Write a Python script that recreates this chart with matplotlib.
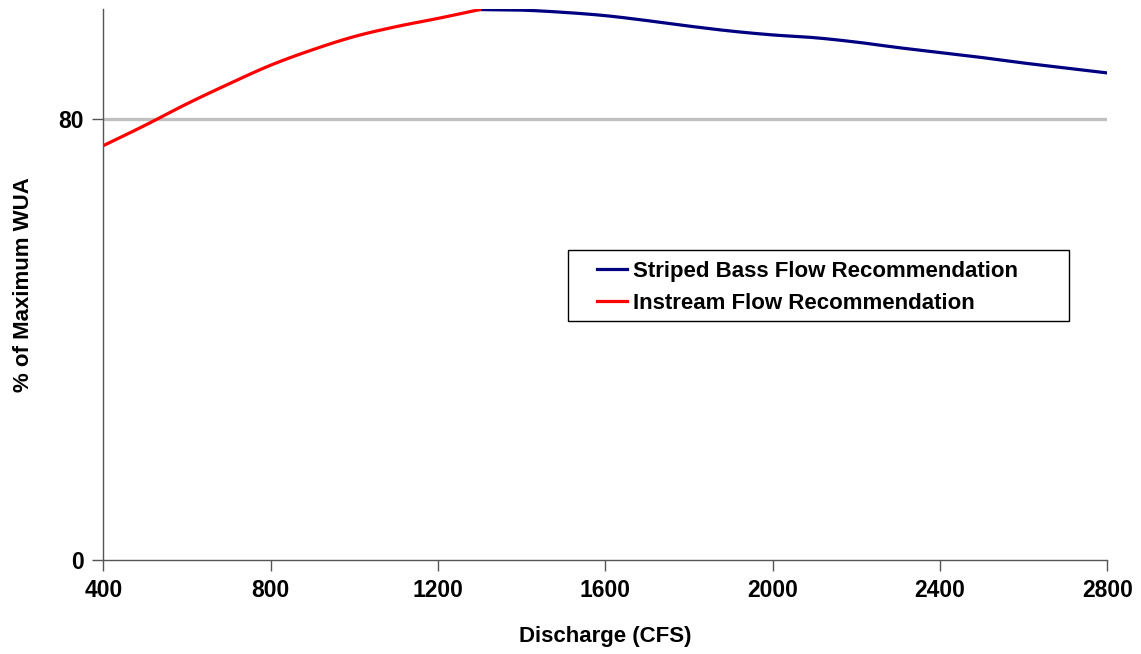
import numpy as np
import matplotlib.pyplot as plt
from matplotlib.patches import Rectangle

# Discharge (CFS) and % of max WUA
instream_q = [400, 500, 600, 700, 800, 900, 1000, 1100, 1200, 1300]
instream_wua = [75.2, 78.9, 82.8, 86.4, 89.8, 92.6, 95.0, 96.8, 98.3, 99.9]

bass_q = [1300, 1400, 1500, 1600, 1700, 1800, 1900, 2000, 2100, 2200,
          2300, 2400, 2500, 2600, 2700, 2800]
bass_wua = [99.9, 99.8, 99.4, 98.8, 97.9, 96.9, 96.0, 95.3, 94.8, 94.0,
            93.0, 92.1, 91.2, 90.2, 89.3, 88.4]

x_ticks = [400, 800, 1200, 1600, 2000, 2400, 2800]
y_ticks = [0, 80]


def smooth(x, y, n=12):
    # Catmull-Rom drawing of the line, like Excel's "smoothed line"
    x = np.asarray(x, float)
    y = np.asarray(y, float)
    px = np.concatenate([[2 * x[0] - x[1]], x, [2 * x[-1] - x[-2]]])
    py = np.concatenate([[2 * y[0] - y[1]], y, [2 * y[-1] - y[-2]]])
    t = np.linspace(0, 1, n, endpoint=False)
    xs, ys = [], []
    for i in range(1, len(px) - 2):
        for p, out in ((px, xs), (py, ys)):
            p0, p1, p2, p3 = p[i - 1], p[i], p[i + 1], p[i + 2]
            out.extend(0.5 * (2 * p1 + (-p0 + p2) * t
                              + (2 * p0 - 5 * p1 + 4 * p2 - p3) * t ** 2
                              + (-p0 + 3 * p1 - 3 * p2 + p3) * t ** 3))
    xs.append(x[-1])
    ys.append(y[-1])
    return xs, ys


plt.rcParams['font.family'] = ['Liberation Sans', 'DejaVu Sans']
plt.rcParams['font.weight'] = 'bold'

fig = plt.figure(figsize=(11.41, 6.54), dpi=100)
ax = fig.add_axes([0.0905, 0.1437, 0.88, 0.8425])

ax.axhline(80, color='#c0c0c0', lw=2.4, zorder=1)
bx, by = smooth(bass_q, bass_wua)
ax.plot(bx, by, color='#000080', lw=2.3,
        label='Striped Bass Flow Recommendation', zorder=3)
ix, iy = smooth(instream_q, instream_wua)
ax.plot(ix, iy, color='#ff0000', lw=2.3,
        label='Instream Flow Recommendation', zorder=3)

ax.set_xlim(400, 2800)
ax.set_ylim(0, 100)
ax.set_xticks(x_ticks)
ax.set_yticks(y_ticks)
ax.tick_params(axis='both', labelsize=16.5, length=8, width=1,
               color='#555555', direction='out', pad=6)
for lab in ax.get_xticklabels() + ax.get_yticklabels():
    lab.set_fontweight('bold')

for s in ['top', 'right']:
    ax.spines[s].set_visible(False)
for s in ['left', 'bottom']:
    ax.spines[s].set_color('#555555')
    ax.spines[s].set_linewidth(1)
ax.spines['left'].set_zorder(4)

ax.set_xlabel('Discharge (CFS)', fontsize=16, fontweight='bold')
ax.set_ylabel('% of Maximum WUA', fontsize=16, fontweight='bold')
ax.xaxis.set_label_coords(0.5, -0.119)
ax.yaxis.set_label_coords(-0.069, 0.5)

# legend box drawn separately (Excel-style padding)
ax.add_patch(Rectangle((0.4629, 0.4338), 0.4989, 0.1288, transform=ax.transAxes,
                       facecolor='white', edgecolor='black', lw=1, zorder=5))
leg = ax.legend(loc='center left', bbox_to_anchor=(0.4918, 0.4946),
                borderaxespad=0, fontsize=16, frameon=False,
                handlelength=1.35, handletextpad=0.28, borderpad=0,
                labelspacing=0.52)
leg.set_zorder(6)
for t in leg.get_texts():
    t.set_fontweight('bold')

fig.savefig('out.png', dpi=100)
